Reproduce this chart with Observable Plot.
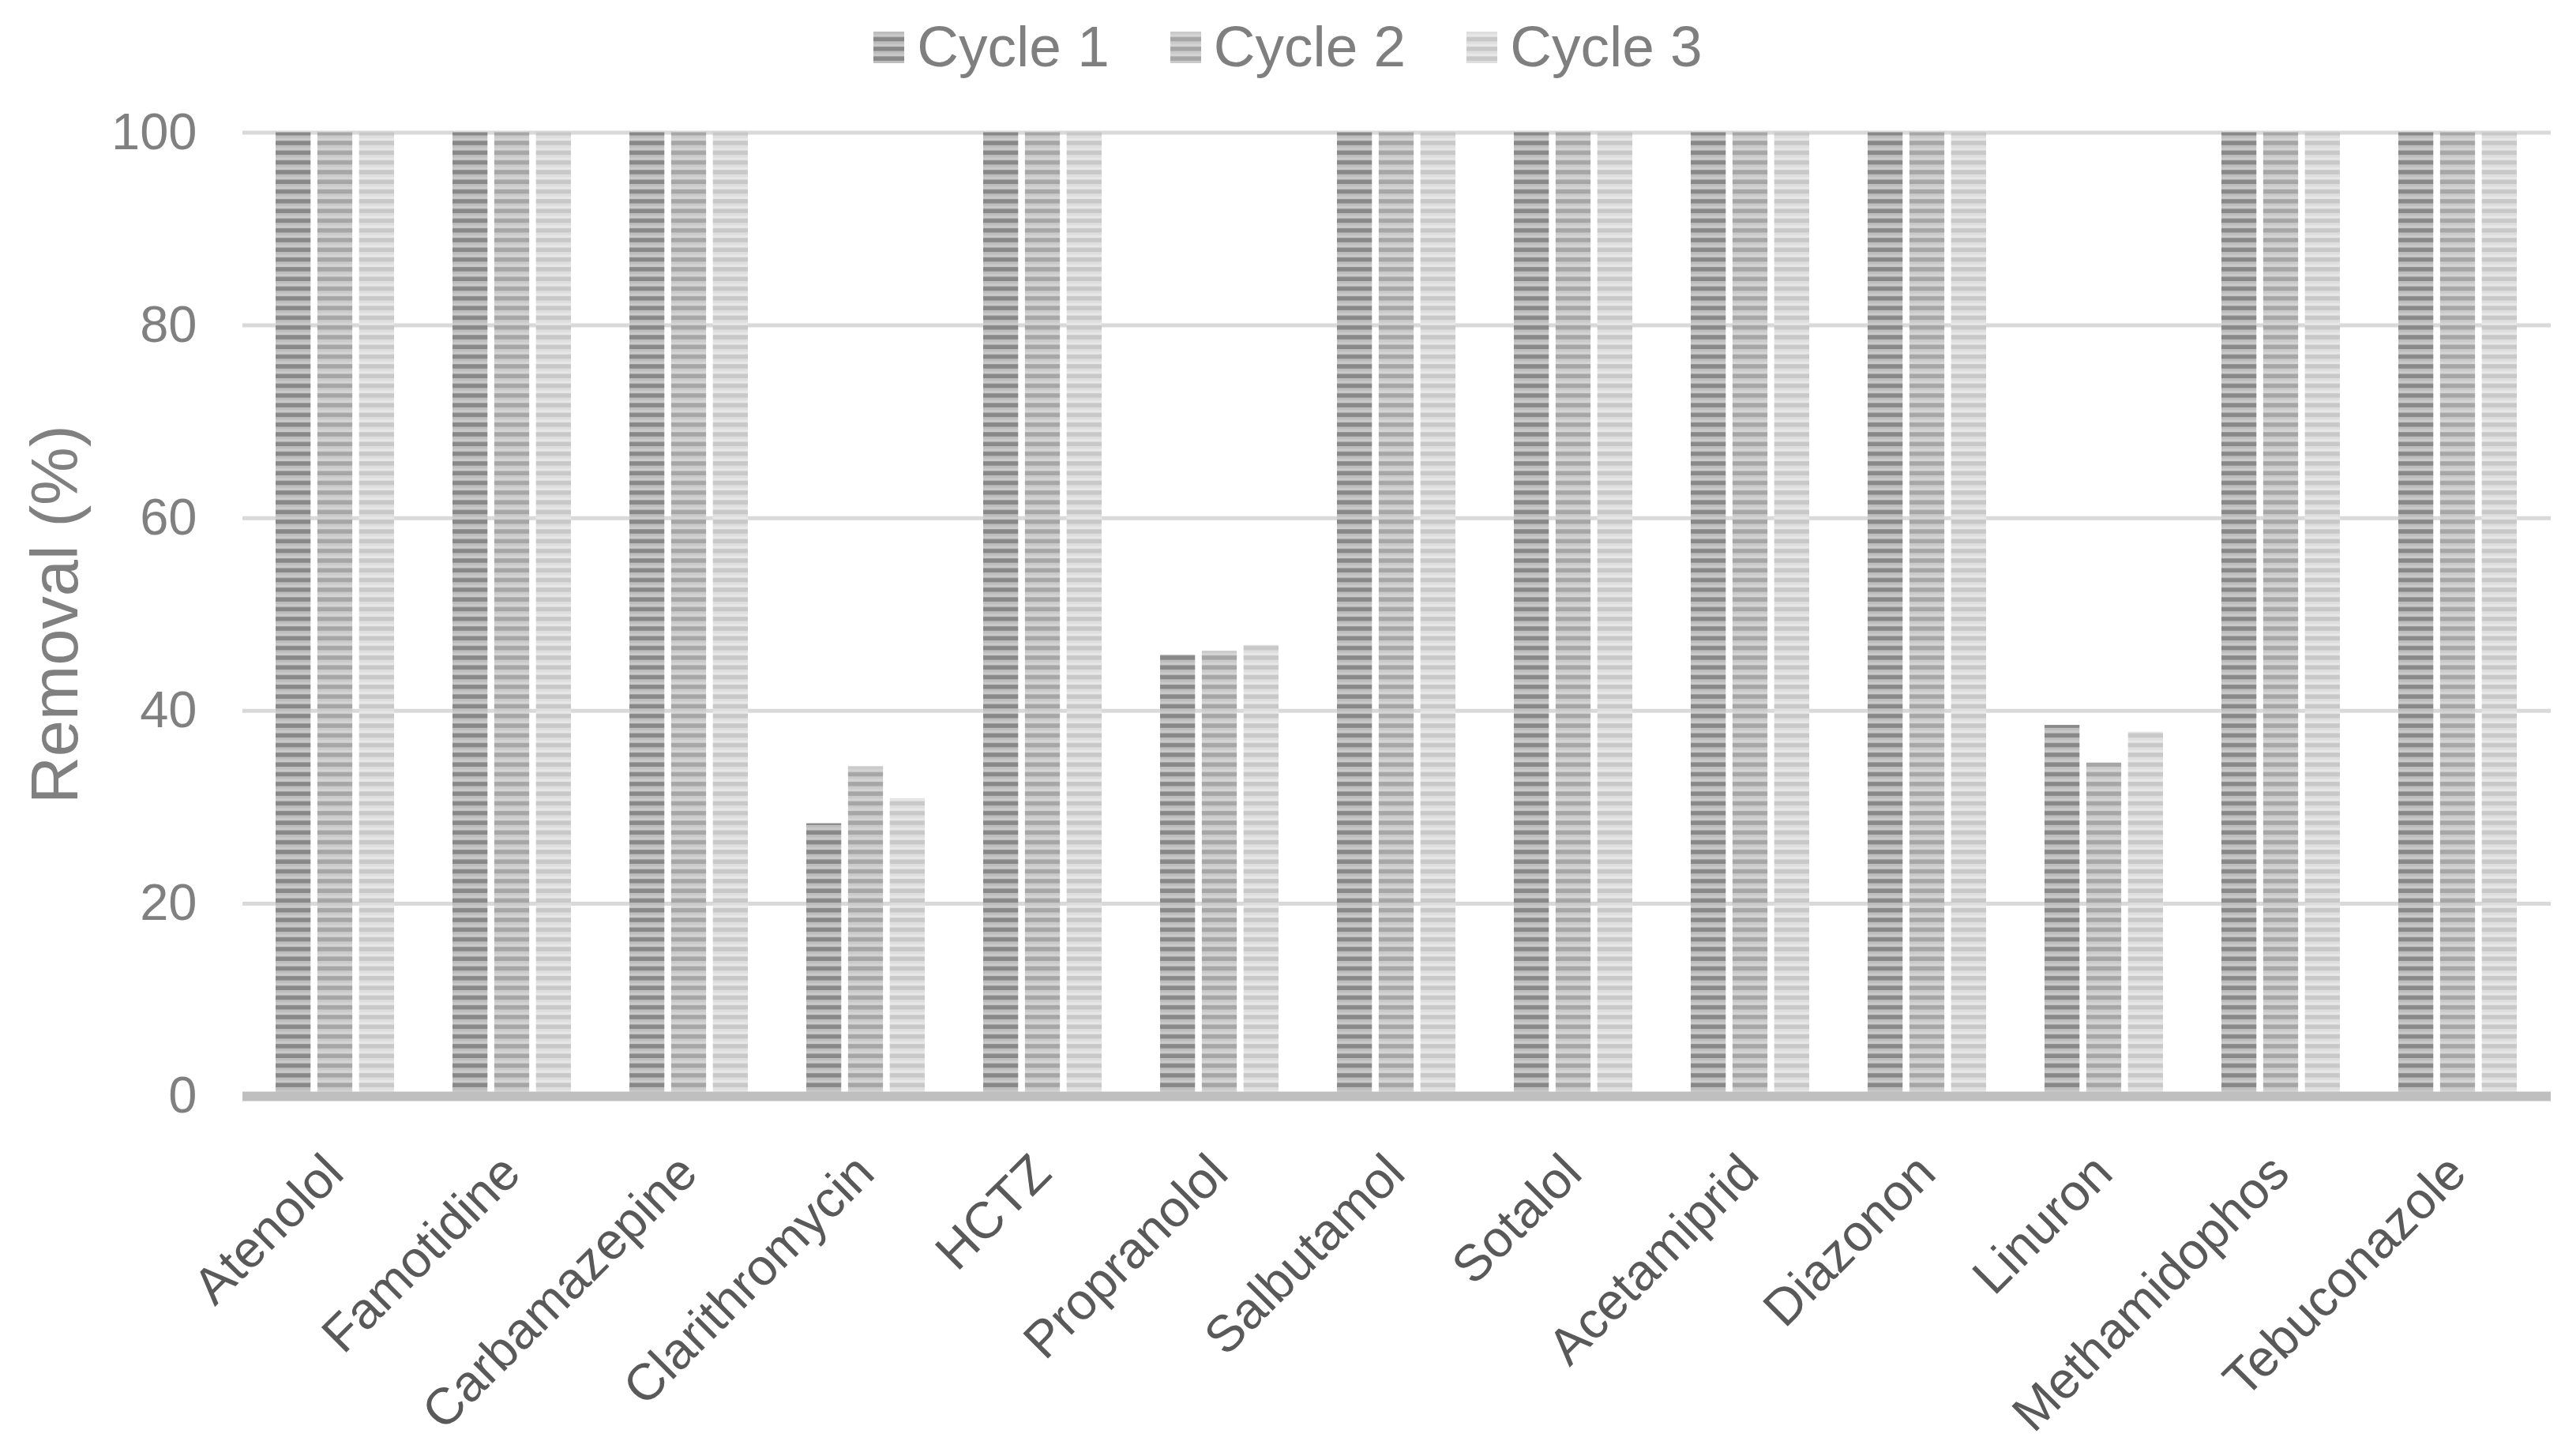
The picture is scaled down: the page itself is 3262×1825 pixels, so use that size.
<!DOCTYPE html>
<html>
<head>
<meta charset="utf-8">
<script src="https://cdn.jsdelivr.net/npm/d3@7"></script>
<script src="https://cdn.jsdelivr.net/npm/@observablehq/plot@0.6"></script>
<style>
  html, body { margin: 0; padding: 0; background: #ffffff; }
  body { width: 3262px; height: 1825px; overflow: hidden; font-family: "Liberation Sans", Arial, sans-serif; }
  #legend { height: 110px; display: flex; justify-content: center; align-items: center; gap: 77px; padding-left: 0; box-sizing: border-box; padding-top: 6px; }
  .item { display: flex; align-items: center; gap: 16px; }
  .item span { font-size: 73px; line-height: 1; color: #7f7f7f; }
  .item svg { display: block; margin-top: 4px; }
  #chart svg { display: block; }
</style>
</head>
<body>
<div id="legend"></div>
<div id="chart"></div>
<script>
// ---- data ----
const compounds = ["Atenolol", "Famotidine", "Carbamazepine", "Clarithromycin", "HCTZ", "Propranolol", "Salbutamol", "Sotalol", "Acetamiprid", "Diazonon", "Linuron", "Methamidophos", "Tebuconazole"];
const cycles = ["Cycle 1", "Cycle 2", "Cycle 3"];
const cycle1 = [100, 100, 100, 28.3, 100, 45.8, 100, 100, 100, 100, 38.5, 100, 100];
const cycle2 = [100, 100, 100, 34.2, 100, 46.2, 100, 100, 100, 100, 34.6, 100, 100];
const cycle3 = [100, 100, 100, 30.9, 100, 46.8, 100, 100, 100, 100, 37.8, 100, 100];
const yTicks = [0, 20, 40, 60, 80, 100];
const yLabel = "Removal (%)";

// ---- styles ----
const stripes = [
  {id: "pc1", dark: "#888888", light1: "#bdbdbd", light2: "#c9c9c9"},
  {id: "pc2", dark: "#a6a6a6", light1: "#cacaca", light2: "#d4d4d4"},
  {id: "pc3", dark: "#c8c8c8", light1: "#dedede", light2: "#e7e7e7"}
];
const period = 12.3;

function addPatterns(svgSel) {
  const defs = svgSel.insert("defs", ":first-child");
  for (const s of stripes) {
    const p = defs.append("pattern")
      .attr("id", s.id)
      .attr("patternUnits", "userSpaceOnUse")
      .attr("width", 10).attr("height", period);
    p.append("rect").attr("x", 0).attr("y", 0).attr("width", 10).attr("height", period).attr("fill", s.light2);
    p.append("rect").attr("x", 0).attr("y", 0).attr("width", 10).attr("height", 3.4).attr("fill", s.light1);
    p.append("rect").attr("x", 0).attr("y", 6.8).attr("width", 10).attr("height", 5.5).attr("fill", s.dark);
  }
}

const series = [cycle1, cycle2, cycle3].map((vals, k) =>
  compounds.map((c, i) => ({compound: c, cycle: cycles[k], value: vals[i]})));

const W = 3262, H = 1715;
const mL = 307, mR = 32, mT = 57.5, mB = 437;
const padInner = 0.33, padOuter = 0.165;
const step = (W - mL - mR) / (compounds.length - padInner + 2 * padOuter);
const band = step * (1 - padInner);
const barStep = band / (3 - 0.15);
const barW = barStep * (1 - 0.15);

const barMarks = series.map((data, k) => Plot.barY(data, {
  x: "compound",
  y: "value",
  fill: `url(#${stripes[k].id})`,
  insetLeft: k * barStep,
  insetRight: band - k * barStep - barW
}));

const chart = Plot.plot({
  width: W,
  height: H,
  marginLeft: mL,
  marginRight: mR,
  marginTop: mT,
  marginBottom: mB,
  style: {fontFamily: '"Liberation Sans", Arial, sans-serif', background: "#ffffff"},
  x: {domain: compounds, paddingInner: padInner, paddingOuter: padOuter, label: null},
  y: {domain: [0, 100], label: null},
  marks: [
    Plot.gridY(yTicks.filter(d => d > 0), {stroke: "#d9d9d9", strokeOpacity: 1, strokeWidth: 5}),
    ...barMarks,
    Plot.ruleY([0], {stroke: "#bfbfbf", strokeWidth: 12}),
    Plot.axisY({ticks: yTicks, tickSize: 0, tickPadding: 58, fontSize: 65, color: "#808080", fill: "#808080", label: null}),
    Plot.axisX({tickRotate: -45, tickSize: 0, tickPadding: 86, dx: -1, fontSize: 65, color: "#595959", fill: "#595959", label: null}),
    Plot.text([yLabel], {frameAnchor: "left", text: d => d, rotate: -90, textAnchor: "middle", dx: -236, fontSize: 83, fill: "#808080"})
  ]
});
addPatterns(d3.select(chart));
document.getElementById("chart").appendChild(chart);

// ---- legend ----
const legend = d3.select("#legend");
cycles.forEach((c, k) => {
  const item = legend.append("div").attr("class", "item");
  const sw = item.append("svg").attr("width", 39).attr("height", 40);
  addPatterns(sw);
  sw.append("rect").attr("width", 39).attr("height", 40).attr("fill", `url(#${stripes[k].id})`);
  item.append("span").text(c);
});
</script>
</body>
</html>
